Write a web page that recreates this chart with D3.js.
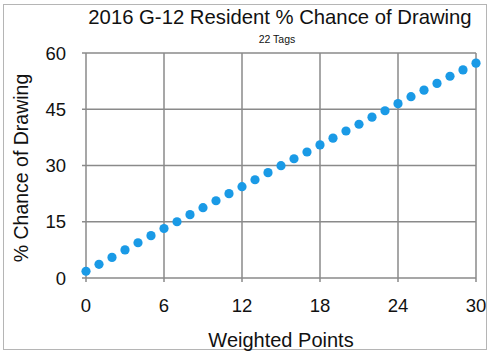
<!DOCTYPE html>
<html>
<head>
<meta charset="utf-8">
<script src="https://cdn.jsdelivr.net/npm/d3@7"></script>
<style>
  body { margin: 0; background: #fff; }
  text { font-family: "Liberation Sans", Arial, sans-serif; fill: #111; }
</style>
</head>
<body>
<div id="chart"></div>
<script>
// weighted points 0..30 and the chance of drawing at each
var points = [0,1,2,3,4,5,6,7,8,9,10,11,12,13,14,15,16,17,18,19,20,21,22,23,24,25,26,27,28,29,30];
var chance = [1.8,3.65,5.5,7.5,9.4,11.3,13.2,15.0,16.9,18.75,20.6,22.5,24.35,26.2,28.1,29.95,
              31.8,33.6,35.5,37.3,39.2,41.0,42.9,44.6,46.5,48.35,50.1,51.9,53.8,55.5,57.3];
var xTicks = [0,6,12,18,24,30];
var yTicks = [0,15,30,45,60];

var W = 500, H = 362;
var svg = d3.select('#chart').append('svg')
  .attr('width', W).attr('height', H);

// outer frame
svg.append('rect')
  .attr('x', 3.5).attr('y', 4.5).attr('width', 483).attr('height', 345)
  .style('fill', 'none').style('stroke', '#b5b5b5').style('stroke-width', 1);

var x = d3.scaleLinear().domain([0, 30]).range([86, 476]);
var y = d3.scaleLinear().domain([0, 60]).range([278, 53]);

// grid
svg.append('g').selectAll('line').data(xTicks).enter().append('line')
  .attr('x1', d => x(d)).attr('x2', d => x(d))
  .attr('y1', y(60)).attr('y2', y(0) + 4)
  .style('stroke', '#8a8a8a').style('stroke-width', 1.5);
svg.append('g').selectAll('line').data(yTicks).enter().append('line')
  .attr('x1', x(0) - 4).attr('x2', x(30))
  .attr('y1', d => y(d)).attr('y2', d => y(d))
  .style('stroke', '#8a8a8a').style('stroke-width', 1.5);

// tick labels
svg.append('g').selectAll('text').data(yTicks).enter().append('text')
  .attr('x', 66).attr('y', d => y(d)).attr('dy', '0.36em')
  .attr('text-anchor', 'end').style('font-size', '18.5px')
  .text(d => d);
svg.append('g').selectAll('text').data(xTicks).enter().append('text')
  .attr('x', d => x(d)).attr('y', 305).attr('dy', '0.36em')
  .attr('text-anchor', 'middle').style('font-size', '18.5px')
  .text(d => d);

// dots
svg.append('g').selectAll('circle').data(points).enter().append('circle')
  .attr('cx', (d) => x(d)).attr('cy', (d, i) => y(chance[i]))
  .attr('r', 4.6)
  .style('fill', '#1a9ae6');

// titles
svg.append('text').attr('x', 280).attr('y', 24)
  .attr('text-anchor', 'middle').style('font-size', '20.3px')
  .text('2016 G-12 Resident % Chance of Drawing');
svg.append('text').attr('x', 277).attr('y', 43)
  .attr('text-anchor', 'middle').style('font-size', '10.5px')
  .text('22 Tags');
svg.append('text').attr('x', 281).attr('y', 347)
  .attr('text-anchor', 'middle').style('font-size', '20px')
  .text('Weighted Points');
svg.append('text')
  .attr('transform', 'translate(28,168) rotate(-90)')
  .attr('text-anchor', 'middle').style('font-size', '19.5px')
  .text('% Chance of Drawing');
</script>
</body>
</html>
